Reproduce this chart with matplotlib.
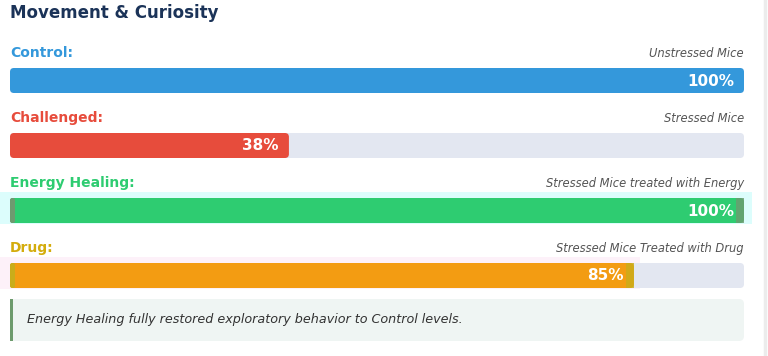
import matplotlib
matplotlib.use("Agg")
import matplotlib.pyplot as plt
from matplotlib.patches import FancyBboxPatch, Rectangle

# chart data
title = "Movement & Curiosity"
groups = ["Control:", "Challenged:", "Energy Healing:", "Drug:"]
subtitles = ["Unstressed Mice", "Stressed Mice",
             "Stressed Mice treated with Energy", "Stressed Mice Treated with Drug"]
values = [100, 38, 100, 85]
bar_colors = ["#3498db", "#e74c3c", "#2ecc71", "#f39c12"]
label_colors = ["#3498db", "#e74c3c", "#2ecc71", "#d4ac0d"]
note = "Energy Healing fully restored exploratory behavior to Control levels."

W, H = 768, 356
left_px, right_px = 10, 744
ppu = (right_px - left_px) / 100.0   # pixels per percent unit

fig = plt.figure(figsize=(W / 100, H / 100), dpi=100)
fig.patch.set_facecolor("white")
ax = fig.add_axes([0, 0, 1, 1])
ax.set_xlim(-left_px / ppu, (W - left_px) / ppu)
ax.set_ylim(H, 0)
ax.axis("off")

def px(x):
    return (x - left_px) / ppu

def rbox(x0, y0, w, h, color, r=4, z=2, **kw):
    p = FancyBboxPatch((x0, y0), w, h,
                       boxstyle=f"round,pad=0,rounding_size={r / ppu}",
                       mutation_aspect=ppu, facecolor=color, edgecolor="none",
                       zorder=z, **kw)
    ax.add_patch(p)
    return p

# right page border
ax.plot([px(765), px(765)], [0, H], color="#ececec", lw=2.5, zorder=1)

ax.text(px(10), 13, title, fontsize=12, fontweight="bold", color="#1b3358",
        va="center", ha="left")

bar_h = 25
for i, (g, sub, v, c, lc) in enumerate(zip(groups, subtitles, values,
                                            bar_colors, label_colors)):
    top = 68 + 65 * i
    base = 57 + 65 * i
    ax.text(px(10), base, g, fontsize=10, fontweight="bold", color=lc,
            va="baseline", ha="left")
    ax.text(px(744), base, sub, fontsize=8.3, style="italic", color="#555555",
            va="baseline", ha="right")

    # glow for treated groups
    if i == 2:
        ax.add_patch(Rectangle((px(0), top - 6), v + 18 / ppu,
                               bar_h + 7, facecolor="#dcfdfc", edgecolor="none", zorder=1))
    if i == 3:
        ax.add_patch(Rectangle((px(0), top - 6), v + 16 / ppu,
                               bar_h + 7, facecolor="#fdf1f9", edgecolor="none", zorder=1))

    rbox(0, top, 100, bar_h, "#e3e7f1", z=2)
    rbox(0, top, v, bar_h, c, z=3)
    if i >= 2:
        edge = "#6e9a70" if i == 2 else "#c9ad1a"
        rbox(0, top, 5 / ppu, bar_h, edge, r=2, z=4)
        ax.add_patch(Rectangle((v - 8 / ppu, top), 8 / ppu, bar_h,
                               facecolor=edge, edgecolor="none", zorder=4, alpha=0.8))
    ax.text(v - 10 / ppu, top + bar_h / 2 + 0.5, f"{v}%", fontsize=11,
            fontweight="bold", color="white", va="center", ha="right", zorder=5)

# note box
rbox(0, 299, 100, 42, "#eff5f3", r=5, z=2)
ax.add_patch(Rectangle((px(10), 299), 3 / ppu, 42, facecolor="#6d9b6d",
                       edgecolor="none", zorder=3))
ax.text(px(27), 320, note, fontsize=9.2, style="italic", color="#333333",
        va="center", ha="left", zorder=4)

fig.savefig("out.png", dpi=100, facecolor="white")
